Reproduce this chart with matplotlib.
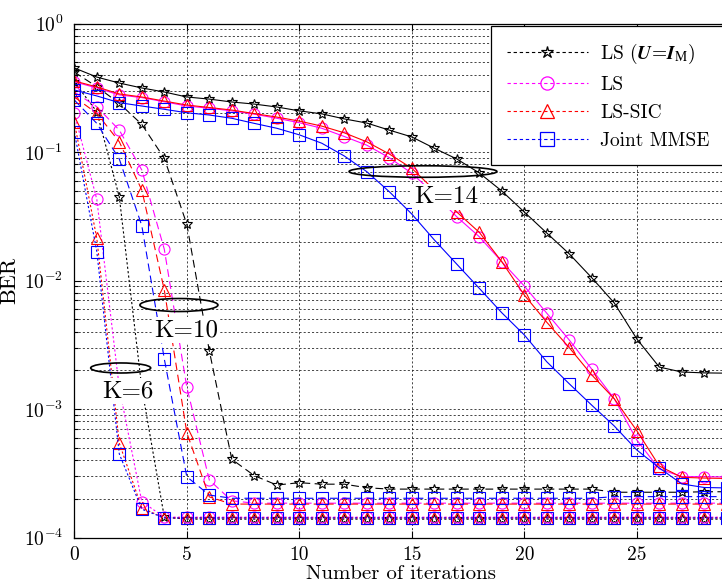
import numpy as np
import matplotlib
matplotlib.use('Agg')
import matplotlib.pyplot as plt
from matplotlib.patches import Ellipse
from matplotlib.lines import Line2D
from matplotlib.ticker import LogLocator, NullFormatter

plt.rcParams['font.family'] = ['cmr10', 'DejaVu Serif']
plt.rcParams['mathtext.fontset'] = 'cm'
plt.rcParams['axes.formatter.use_mathtext'] = True
plt.rcParams['axes.unicode_minus'] = False

iters = list(range(0, 30))

# ---------------- K = 14 (solid) ----------------
k14_ls_ui = [0.451, 0.383, 0.344, 0.315, 0.293, 0.268, 0.258, 0.245, 0.236, 0.224,
             0.209, 0.198, 0.181, 0.168, 0.148, 0.131, 0.107, 0.0882, 0.0687, 0.0497,
             0.0341, 0.0234, 0.0161, 0.0105, 0.00668, 0.00351, 0.00212, 0.00194, 0.00191, 0.00190]
k14_ls = [0.352, 0.315, 0.278, 0.265, 0.246, 0.228, 0.219, 0.209, 0.197, 0.183,
          0.169, 0.153, 0.132, 0.113, 0.0903, 0.0683, 0.0471, 0.0313, 0.0219, 0.0140,
          0.00906, 0.00556, 0.00344, 0.00204, 0.00120, 0.000574, 0.000341, 0.000298, 0.000297, 0.000296]
k14_sic = [0.357, 0.321, 0.283, 0.268, 0.249, 0.232, 0.222, 0.212, 0.199, 0.187,
           0.174, 0.159, 0.141, 0.120, 0.0965, 0.0747, 0.0506, 0.0341, 0.0237, 0.0140,
           0.00771, 0.00473, 0.00300, 0.00184, 0.00120, 0.000678, 0.000360, 0.000294, 0.000290, 0.000288]
k14_mmse = [0.304, 0.273, 0.242, 0.228, 0.215, 0.202, 0.194, 0.183, 0.167, 0.153,
            0.136, 0.117, 0.0931, 0.0703, 0.0491, 0.0329, 0.0207, 0.0134, 0.00869, 0.00561,
            0.00377, 0.00233, 0.00157, 0.00107, 0.000737, 0.000480, 0.000348, 0.000261, 0.000245, 0.000243]

# ---------------- K = 10 (dashed) ----------------
k10_ls_ui = [0.419, 0.322, 0.239, 0.164, 0.0893, 0.0274, 0.00284, 0.000406, 0.000303, 0.000256,
             0.000267, 0.000260, 0.000260, 0.000244, 0.000238, 0.000238, 0.000238, 0.000238, 0.000238, 0.000238,
             0.000238, 0.000238, 0.000238, 0.000238, 0.000225, 0.000225, 0.000225, 0.000225, 0.000227, 0.000227]
k10_ls = [0.293, 0.225, 0.148, 0.0724, 0.0175, 0.00148, 0.000280, 0.000193, 0.000185, 0.000185,
          0.000185, 0.000185, 0.000185, 0.000185, 0.000185, 0.000185, 0.000185, 0.000185, 0.000185, 0.000185,
          0.000185, 0.000185, 0.000185, 0.000185, 0.000185, 0.000185, 0.000185, 0.000185, 0.000185, 0.000185]
k10_sic = [0.268, 0.200, 0.120, 0.0506, 0.00844, 0.000654, 0.000207, 0.000182, 0.000182, 0.000182,
           0.000182, 0.000182, 0.000182, 0.000182, 0.000182, 0.000182, 0.000182, 0.000182, 0.000182, 0.000182,
           0.000182, 0.000182, 0.000182, 0.000182, 0.000182, 0.000182, 0.000182, 0.000182, 0.000182, 0.000182]
k10_mmse = [0.254, 0.167, 0.0882, 0.0267, 0.00245, 0.000297, 0.000214, 0.000202, 0.000202, 0.000202,
            0.000202, 0.000202, 0.000202, 0.000202, 0.000202, 0.000202, 0.000202, 0.000202, 0.000202, 0.000202,
            0.000202, 0.000202, 0.000202, 0.000202, 0.000208, 0.000208, 0.000208, 0.000208, 0.000208, 0.000208]

# ---------------- K = 6 (dotted) ----------------
k6_ls_ui = [0.350, 0.206, 0.0447, 0.00146, 0.000144, 0.000139, 0.000139, 0.000139, 0.000139, 0.000139,
            0.000139, 0.000139, 0.000139, 0.000139, 0.000139, 0.000139, 0.000139, 0.000139, 0.000139, 0.000139,
            0.000139, 0.000139, 0.000139, 0.000139, 0.000139, 0.000139, 0.000139, 0.000139, 0.000139, 0.000139]
k6_ls = [0.200, 0.0428, 0.00146, 0.000190, 0.000144, 0.000144, 0.000144, 0.000144, 0.000144, 0.000144,
         0.000144, 0.000144, 0.000144, 0.000144, 0.000144, 0.000144, 0.000144, 0.000144, 0.000144, 0.000144,
         0.000144, 0.000144, 0.000144, 0.000144, 0.000144, 0.000144, 0.000144, 0.000144, 0.000144, 0.000144]
k6_sic = [0.171, 0.0213, 0.000541, 0.000170, 0.000142, 0.000142, 0.000142, 0.000142, 0.000142, 0.000142,
          0.000142, 0.000142, 0.000142, 0.000142, 0.000142, 0.000142, 0.000142, 0.000142, 0.000142, 0.000142,
          0.000142, 0.000142, 0.000142, 0.000142, 0.000142, 0.000142, 0.000142, 0.000142, 0.000142, 0.000142]
k6_mmse = [0.144, 0.0168, 0.000447, 0.000166, 0.000142, 0.000142, 0.000142, 0.000142, 0.000142, 0.000142,
           0.000142, 0.000142, 0.000142, 0.000142, 0.000142, 0.000142, 0.000142, 0.000142, 0.000142, 0.000142,
           0.000142, 0.000142, 0.000142, 0.000142, 0.000142, 0.000142, 0.000142, 0.000142, 0.000142, 0.000142]

legend_labels = [r'LS ($\boldsymbol{U}$=$\boldsymbol{I}_{\mathrm{M}}$)', 'LS', 'LS-SIC', 'Joint MMSE']
y_ticks = [1e-4, 1e-3, 1e-2, 1e-1, 1]
y_ticklabels = [r'$10^{-4}$', r'$10^{-3}$', r'$10^{-2}$', r'$10^{-1}$', r'$10^{0}$']
x_ticks = [0, 5, 10, 15, 20, 25]

colors = ['k', '#ff00ff', '#ff0000', '#0000ff']
markers = ['*', 'o', '^', 's']
msizes = [7.5, 8.0, 8.5, 8.5]
ls_k14 = '-'
ls_k10 = (0, (7, 4))
ls_k6 = (0, (2, 2))

fig = plt.figure(figsize=(7.22, 5.88), dpi=100)
ax = fig.add_axes([74.3 / 722, 50.5 / 588, 652.5 / 722, 514 / 588])

groups = [
    ([k6_ls_ui, k6_ls, k6_sic, k6_mmse], ls_k6),
    ([k10_ls_ui, k10_ls, k10_sic, k10_mmse], ls_k10),
    ([k14_ls_ui, k14_ls, k14_sic, k14_mmse], ls_k14),
]
for series, ls in groups:
    for vals, c, m, ms in zip(series, colors, markers, msizes):
        ax.plot(iters, vals, color=c, ls=ls, lw=0.8, marker=m, ms=ms,
                mfc='none', mec=c, mew=0.8)

ax.set_yscale('log')
ax.set_xlim(0, 29)
ax.set_ylim(1e-4, 1)
ax.set_xticks(x_ticks)
ax.set_xticklabels([str(t) for t in x_ticks])
ax.set_yticks(y_ticks)
ax.set_yticklabels(y_ticklabels)
ax.yaxis.set_minor_locator(LogLocator(base=10, subs=np.arange(2, 10), numticks=20))
ax.yaxis.set_minor_formatter(NullFormatter())
ax.tick_params(which='both', direction='in', top=True, right=True, width=0.8)
ax.tick_params(which='major', length=5, labelsize=14)
ax.tick_params(axis='x', which='major', pad=6.5)
ax.tick_params(axis='y', which='major', pad=8)
ax.tick_params(which='minor', length=3)
ax.grid(True, which='major', axis='both', ls=(0, (2.5, 2.5)), color='0.15', lw=0.6)
ax.grid(True, which='minor', axis='y', ls=(0, (2.5, 2.5)), color='0.15', lw=0.6)
for sp in ax.spines.values():
    sp.set_linewidth(0.9)

ax.set_xlabel('Number of iterations', fontsize=15, labelpad=0.5)
ax.set_ylabel('BER', fontsize=16, labelpad=3)

# annotations (axes-fraction positions measured on a 0..30 width)
ann = [
    ('K=14', 0.5507, 0.6625, 0.5166, 0.712, 0.219, 0.0224),
    ('K=10', 0.1655, 0.4037, 0.155, 0.4523, 0.1156, 0.0253),
    ('K=6', 0.0796, 0.285, 0.0687, 0.3298, 0.0889, 0.0195),
]
for txt, tx, ty, ex, ey, ew, eh in ann:
    sx = 30 / 29
    ax.add_patch(Ellipse((ex * sx, ey), ew * sx, eh, transform=ax.transAxes,
                         fill=False, ec='k', lw=1.2, zorder=4))
    ax.text(tx * sx, ty, txt, transform=ax.transAxes, ha='center', va='center',
            fontsize=18, zorder=5,
            bbox=dict(facecolor='white', edgecolor='none', pad=1.5))

handles = [Line2D([], [], color=c, ls=(0, (3, 2.5)), lw=0.8, marker=m, ms=ms + 1.5,
                  mfc='none', mec=c, mew=0.9)
           for c, m, ms in zip(colors, markers, msizes)]
leg = ax.legend(handles, legend_labels, loc='upper left',
                bbox_to_anchor=((491 - 74.3) / 652.5, (537.5 - 26) / 514),
                borderaxespad=0, fontsize=14, handlelength=4.2, handletextpad=0.6,
                borderpad=0.8, labelspacing=0.52, fancybox=False, framealpha=1,
                edgecolor='k')
leg.get_frame().set_linewidth(0.9)
t0 = leg.get_texts()[0]
t0.set_math_fontfamily('stix')
try:
    fig.canvas.draw()
except Exception:
    t0.set_text(r'LS ($\mathbf{U}$=$\mathbf{I}_{\mathrm{M}}$)')
    t0.set_math_fontfamily('cm')

fig.savefig('out.png', dpi=100)
